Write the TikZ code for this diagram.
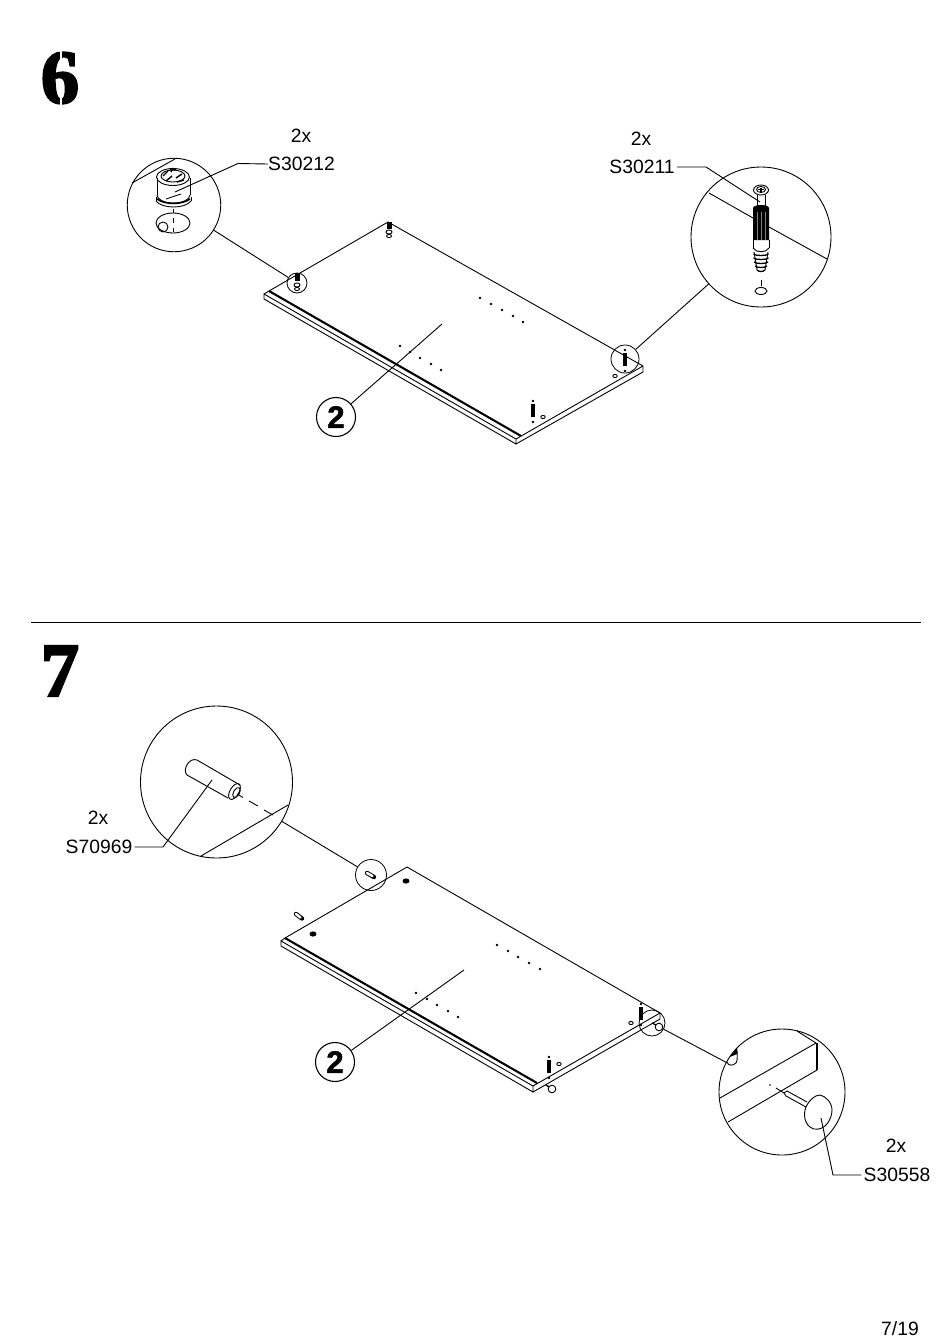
\documentclass[tikz,border=0pt]{standalone}
\usepackage{fontspec}
\setmainfont{Liberation Sans}
\newfontfamily\stepfont[FakeBold=3]{Liberation Serif}
\newfontfamily\partfont[FakeBold=1.6]{Liberation Sans}

\tikzset{
    parttext/.style={font=\fontsize{19.3}{19.3}\selectfont, inner sep=0pt},
    stepnum/.style={font=\fontsize{76}{76}\stepfont\bfseries, inner sep=0pt},
    detail/.style={draw, circle, inner sep=0pt, line width=0.9pt},
    partbubble/.style={draw, circle, inner sep=0pt, line width=1.1pt, minimum size=39pt,
        font=\fontsize{31}{31}\partfont\bfseries},
    leader/.style={line width=0.9pt},
    hole/.style={fill=black},
}

% Small screw standing on the panel
\newcommand{\miniscrew}[2]{
    \fill (#1,#2) circle[radius=1.4pt];
    \fill (#1-1.6,#2+3) rectangle (#1+1.6,#2+16);
    \fill (#1,#2+21) circle[radius=1.4pt];
}

\begin{document}
\begin{tikzpicture}[x=1pt, y=-1pt, line width=0.9pt]

    \useasboundingbox (0,0) rectangle (950,1344);

    %% Step 6

    \node[stepnum] (six) at (60,78) {6};
    \draw[white, line width=1.6pt] (61,50) -- (61,62);
    \draw[white, line width=1.6pt] (61,92) -- (61,107);

    % Panel
    \begin{scope}
        \draw (269,291) -- (388,222) -- (643,366) -- (643,372) -- (516,444) -- (516,439) -- (264,294) -- (264,299) -- (516,444);
        \draw (264,294) -- (269,291);
        \draw (516,439) -- (643,366);
        \draw[line width=2.1pt] (269,291) -- (521,436);
        \foreach \x/\y in {480/298, 491/304, 502/310, 513/316, 523/322, 400/346, 410/352, 420/358, 431/364, 441/370}
            \fill (\x,\y) circle[radius=1.4pt];
        \miniscrew{533}{401}
        \miniscrew{625}{350}
        \draw (543,417) ellipse[x radius=2.2pt, y radius=1.6pt];
        \draw (615,376) ellipse[x radius=2.2pt, y radius=1.6pt];
        % Small cams
        \fill (294.5,273) rectangle (299.5,281);
        \draw (297,285) ellipse[x radius=3pt, y radius=2pt];
        \draw (297,289) ellipse[x radius=2.5pt, y radius=1.6pt];
        \fill (386.5,222) rectangle (391.5,229);
        \draw (389,232) ellipse[x radius=3pt, y radius=2pt];
        \draw (389,236) ellipse[x radius=2.5pt, y radius=1.6pt];
    \end{scope}

    % Cam detail
    \node[detail, minimum size=93.5pt] (camdetail) at (174,205) {};
    \node[detail, line width=0.8pt, minimum size=20pt] (camspot) at (297,283) {};
    \draw[leader] (camdetail) -- (camspot);
    \draw (132,183) -- (175,159);
    \draw (157,178) -- (157,195) (190,178) -- (190,195);
    \draw (173,177) ellipse[x radius=16.5pt, y radius=8.5pt];
    \draw (173,176) ellipse[x radius=12pt, y radius=6pt];
    \draw[line width=1.4pt] (163,176) -- (168,171) (170,169) -- (176,170) (176,178) -- (182,174) (166,181) -- (172,176) (177,182) -- (184,180) (171,172) -- (173,168);
    \draw (157,195) arc[start angle=180, end angle=360, x radius=16.5pt, y radius=8pt];
    \draw (156,197) -- (156,201) (191,197) -- (191,201);
    \draw[line width=1.5pt] (157,199) .. controls (165,205) and (182,205) .. (190,199);
    \draw (156,201) .. controls (162,209) and (185,209) .. (191,201);
    \draw (166,199) -- (181,194);
    \draw (173,209) -- (173,213);
    \draw (173,218) -- (173,223);
    \draw (173,228) -- (173,232);
    \draw (173,223) ellipse[x radius=17pt, y radius=10pt];
    \draw (163,227) circle[radius=5pt];
    \node[parttext] (camcount) at (301,136) {2x};
    \node[parttext] (camlabel) at (301.5,164) {S30212};
    \coordinate (campoint) at (175,192);
    \draw[leader] (camlabel.west) -- (238,163.5) -- (campoint);

    % Screw detail
    \node[detail, minimum size=140pt] (screwdetail) at (761,237) {};
    \node[detail, line width=0.8pt, minimum size=28pt] (screwspot) at (625,359) {};
    \draw[leader] (screwdetail) -- (screwspot);
    \draw (709,193) -- (753,218);
    \draw (769,227) -- (827,259);
    \draw (757,195) -- (757,207) (765,195) -- (765,207);
    \draw (761,190) ellipse[x radius=7.5pt, y radius=5pt];
    \draw (761,189.5) ellipse[x radius=4.5pt, y radius=3pt];
    \draw[line width=1.2pt] (758,189.5) -- (764,189.5) (761,187.5) -- (761,191.5);
    \fill (753,208) arc[start angle=180, end angle=360, x radius=8pt, y radius=-3pt] -- (769,240) -- (753,240) -- cycle;
    \draw[gray, line width=0.4pt] (757,212) -- (757,240) (761,212) -- (761,240) (765,212) -- (765,240);
    \draw (753,240) -- (753,248) (769,240) -- (769,248);
    \draw (753,248) .. controls (756,253) and (766,253) .. (769,248);
    \foreach \y/\w in {254/7.5, 258/7.5, 262/7, 266/6, 270/4}
        \draw[line width=1.3pt] (761-\w,\y) .. controls (761-\w+2,\y+2) and (761+\w-2,\y+2) .. (761+\w,\y);
    \draw (754,252) -- (757,270) (768,252) -- (765,270);
    \draw (761,280) -- (761,286);
    \draw (761,291) ellipse[x radius=6pt, y radius=3.5pt];
    \node[parttext] (screwcount) at (641,139) {2x};
    \node[parttext] (screwlabel) at (642,167) {S30211};
    \coordinate (screwpoint) at (760,202);
    \draw[leader] (screwlabel.east) ++(2,0) -- (706,167) -- (screwpoint);

    % Part number
    \coordinate (panelsix) at (442,324);
    \node[partbubble] (partsix) at (336,417) {2};
    \draw[leader] (partsix) -- (panelsix);

    % Rule between the steps
    \coordinate (ruleleft) at (31,622);
    \coordinate (ruleright) at (921,622);
    \draw (ruleleft) -- (ruleright);

    %% Step 7

    \node[stepnum] (seven) at (60,671) {7};

    % Panel
    \begin{scope}
        \draw (285,938) -- (407,867) -- (660,1013) -- (660,1019) -- (533,1092) -- (533,1086) -- (281,941) -- (281,946) -- (533,1092);
        \draw (281,941) -- (285,938);
        \draw (533,1086) -- (660,1013);
        \draw[line width=2.1pt] (285,938) -- (537,1083);
        \foreach \x/\y in {497/945, 508/951, 518/957, 529/963, 540/969, 416/993, 427/999, 437/1005, 448/1011, 458/1017}
            \fill (\x,\y) circle[radius=1.4pt];
        \fill[hole] (406,881) ellipse[x radius=3.5pt, y radius=2.6pt];
        \fill[hole] (313,934) ellipse[x radius=3.5pt, y radius=2.6pt];
        \miniscrew{549}{1057}
        \miniscrew{641}{1004}
        \draw (559,1064) ellipse[x radius=2.2pt, y radius=1.6pt];
        \draw (631,1023) ellipse[x radius=2.2pt, y radius=1.6pt];
        % Dowels on the panel
        \draw[line width=4.4pt, line cap=round] (367,873) -- (374,877);
        \draw[white, line width=2.4pt, line cap=round] (367,873) -- (372.5,876);
        \draw[line width=4.4pt, line cap=round] (296,914) -- (302,918.5);
        \draw[white, line width=2.4pt, line cap=round] (296,914) -- (300.5,917.5);
        % Pins under the panel
        \draw[line width=1.3pt] (546,1085) -- (549,1087);
        \draw (552,1089) circle[radius=3.8pt];
        \draw[line width=1.3pt] (652,1023) -- (656,1025);
        \draw (659,1027) circle[radius=3.8pt];
    \end{scope}

    % Dowel detail
    \node[detail, minimum size=152pt] (doweldetail) at (216.5,782) {};
    \node[detail, line width=0.8pt, minimum size=31pt] (dowelspot) at (371,875) {};
    \draw[leader] (doweldetail) -- (dowelspot);
    \draw (201,856) -- (288,805);
    \draw (197,760) -- (240,785);
    \draw (187,775) -- (228,798);
    \draw (197,760) .. controls (189,757) and (182,770) .. (187,775);
    \draw (234.5,791.5) ellipse[x radius=8.8pt, y radius=4.5pt, rotate=60];
    \draw (236.5,792.5) ellipse[x radius=5.5pt, y radius=3pt, rotate=60];
    \draw (237,794) -- (243,797.5);
    \draw (249,801) -- (258,806);
    \draw (264,810) -- (273,815);
    \node[parttext] (dowelcount) at (98,818) {2x};
    \node[parttext] (dowellabel) at (99,847) {S70969};
    \coordinate (dowelpoint) at (212,780);
    \draw[leader] (dowellabel.east) ++(2,0) -- (163,847) -- (dowelpoint);

    % Pin detail
    \node[detail, minimum size=126pt] (pindetail) at (782,1092) {};
    \node[detail, line width=0.8pt, minimum size=26pt] (pinspot) at (652,1023) {};
    \draw[leader] (pindetail) -- (pinspot);
    \draw (720,1098) -- (816,1043);
    \draw (728,1122) -- (817,1070);
    \draw (797,1031) -- (816,1043);
    \draw[line width=1.2pt] (817,1043) -- (817,1070);
    \draw (727,1062) .. controls (728,1066) and (733,1066) .. (736,1063) .. controls (738,1060) and (737,1054) .. (737,1050);
    \fill (730,1057) -- (737,1048) -- (737,1054) -- cycle;
    \fill (770,1085) circle[radius=0.8pt];
    \draw (776,1088) -- (784,1093);
    \draw (784,1093) -- (787,1091) -- (807,1102);
    \draw (784,1093) -- (786,1096) -- (806,1107);
    \draw (806,1107) .. controls (803,1114) and (804,1126) .. (814,1129) .. controls (826,1131) and (832,1118) .. (832,1110) .. controls (832,1102) and (825,1096) .. (820,1095) .. controls (815,1095) and (809,1100) .. (806,1107);
    \node[parttext] (pincount) at (896,1146) {2x};
    \node[parttext] (pinlabel) at (897,1175) {S30558};
    \coordinate (pinpoint) at (821,1118);
    \draw[leader] (pinlabel.west) ++(-2,0) -- (833,1175) -- (pinpoint);

    % Part number
    \coordinate (panelseven) at (464,970);
    \node[partbubble] (partseven) at (335,1062) {2};
    \draw[leader] (partseven) -- (panelseven);

    % Page number
    \node[parttext] (pagenum) at (900,1329) {7/19};

\end{tikzpicture}
\end{document}
